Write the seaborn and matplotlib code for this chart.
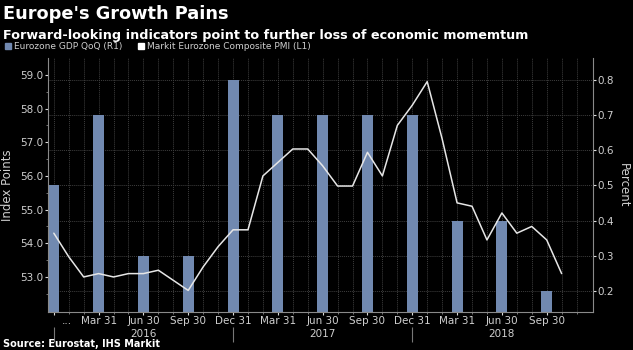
import pandas as pd
import seaborn as sns
import matplotlib.pyplot as plt
import matplotlib.transforms as mtransforms
from matplotlib.patches import Patch

# monthly PMI (left axis) and quarterly GDP QoQ (right axis)
months = pd.period_range("2015-12", "2018-10", freq="M")
pmi = [54.3, 53.6, 53.0, 53.1, 53.0, 53.1, 53.1, 53.2, 52.9, 52.6, 53.3, 53.9,
       54.4, 54.4, 56.0, 56.4, 56.8, 56.8, 56.3, 55.7, 55.7, 56.7, 56.0, 57.5,
       58.1, 58.8, 57.1, 55.2, 55.1, 54.1, 54.9, 54.3, 54.5, 54.1, 53.1]
quarters = months[::3]
gdp = [0.5, 0.7, 0.3, 0.3, 0.8, 0.7, 0.7, 0.7, 0.7, 0.4, 0.4, 0.2]
quarter_labels = ["...", "Mar 31", "Jun 30", "Sep 30", "Dec 31", "Mar 31", "Jun 30",
                  "Sep 30", "Dec 31", "Mar 31", "Jun 30", "Sep 30"]
years = ["2016", "2017", "2018"]

bar_col = "#7189b0"
txt_col = "#cfcfcf"
grid_col = "#3e3e3e"

sns.set_theme(style="dark")
plt.rcParams["font.family"] = ["DejaVu Sans"]

start = months[0]
pmi_df = pd.DataFrame({"x": [(m - start).n for m in months], "pmi": pmi})
gdp_df = pd.DataFrame({"x": [(q - start).n for q in quarters], "gdp": gdp})

fig = plt.figure(figsize=(6.33, 3.5), dpi=100, facecolor="black")
ax = fig.add_axes([0.0758, 0.1086, 0.861, 0.726])  # left axis: PMI
ax2 = ax.twinx()  # right axis: GDP
ax.set_zorder(ax2.get_zorder() + 1)
ax.patch.set_visible(False)
ax2.set_facecolor("black")

sns.barplot(data=gdp_df, x="x", y="gdp", native_scale=True, width=0.247,
            color=bar_col, saturation=1, ax=ax2, zorder=2,
            edgecolor="none", linewidth=0)
sns.lineplot(data=pmi_df, x="x", y="pmi", color="#e6e6e6", linewidth=1.1, ax=ax)

ax.set_xlim(-0.39, 36.1)
ax.set_ylim(51.96, 59.505)
ax2.set_ylim(0.140, 0.8626)

ax.set_yticks([53, 54, 55, 56, 57, 58, 59])
ax.set_yticks([52.5, 53.5, 54.5, 55.5, 56.5, 57.5, 58.5], minor=True)
ax.set_yticklabels([f"{v:.1f}" for v in [53, 54, 55, 56, 57, 58, 59]])
ax2.set_yticks([0.2, 0.3, 0.4, 0.5, 0.6, 0.7, 0.8])
ax2.set_yticklabels(["0.2", "0.3", "0.4", "0.5", "0.6", "0.7", "0.8"])

ax.set_xticks(gdp_df["x"])
ax.set_xticklabels(quarter_labels)
ax.set_xticks(pmi_df["x"].tolist() + [35], minor=True)
ax.set_xlabel("")
ax2.set_xlabel("")

# grid drawn on the back axis (x ticks are shared with the front axis)
ax.grid(False)
ax2.grid(False)
ax2.xaxis.set_visible(True)
ax2.yaxis.grid(True, color=grid_col, linestyle=(0, (1, 1)), linewidth=0.7)
ax2.xaxis.grid(True, which="both", color=grid_col, linestyle=(0, (1, 1)), linewidth=0.7)
ax2.set_axisbelow(True)
ax2.tick_params(axis="x", which="both", bottom=False, labelbottom=False,
                top=False, labeltop=False)

for a in (ax, ax2):
    for s in a.spines.values():
        s.set_visible(False)
ax.spines["left"].set_visible(True)
ax.spines["bottom"].set_visible(True)
ax2.spines["right"].set_visible(True)
for s in (ax.spines["left"], ax.spines["bottom"], ax2.spines["right"]):
    s.set_color("#8a8a8a")
    s.set_linewidth(0.8)

ax.tick_params(axis="y", which="major", left=True, length=2.5, width=0.8,
               color="#dddddd", labelsize=7.5, labelcolor=txt_col, pad=1)
ax.tick_params(axis="y", which="minor", left=True, length=1.5, width=0.6, color="#888888")
ax2.tick_params(axis="y", right=True, length=2.5, width=0.8, color="#dddddd",
                labelsize=7.5, labelcolor=txt_col, pad=1)
ax.tick_params(axis="x", which="major", bottom=True, length=2, width=0.8,
               color="#dddddd", labelsize=7.5, labelcolor=txt_col, pad=1)
ax.tick_params(axis="x", which="minor", bottom=True, length=1.2, width=0.6, color="#888888")

first = ax.get_xticklabels()[0]
first.set_ha("left")
first.set_transform(first.get_transform() +
                    mtransforms.ScaledTranslation(8 / 100, 0, fig.dpi_scale_trans))

ax.set_ylabel("Index Points", color=txt_col, fontsize=8.5, labelpad=4)
ax2.set_ylabel("Percent", color=txt_col, fontsize=8.5, rotation=270, labelpad=11)

# year grouping below the quarter labels
year_ax = ax.secondary_xaxis(-0.06)
year_ax.spines["bottom"].set_visible(False)
bounds = [0, 12, 24]
year_ax.set_xticks(bounds)
year_ax.set_xticklabels(["", "", ""])
year_ax.set_xticks([b + 6 for b in bounds], minor=True)
year_ax.set_xticklabels(years, minor=True)
year_ax.tick_params(axis="x", which="major", length=11, width=0.8, color="#777777")
year_ax.tick_params(axis="x", which="minor", length=0, labelsize=7.5,
                    labelcolor=txt_col, pad=1)

fig.text(0.004, 0.985, "Europe's Growth Pains", color="white", fontsize=12.8,
         fontweight="bold", va="top", ha="left")
fig.text(0.004, 0.918, "Forward-looking indicators point to further loss of economic momemtum",
         color="white", fontsize=9.2, fontweight="bold", va="top", ha="left")
fig.legend(handles=[Patch(color=bar_col), Patch(color="white")],
           labels=["Eurozone GDP QoQ (R1)", "Markit Eurozone Composite PMI (L1)"],
           loc="center left", bbox_to_anchor=(0.008, 0.866), ncol=2, frameon=False,
           fontsize=6.5, labelcolor=txt_col, handlelength=0.7, handleheight=0.7,
           handletextpad=0.3, columnspacing=1.7, borderaxespad=0, borderpad=0)
fig.text(0.004, 0.004, "Source: Eurostat, IHS Markit", color="white", fontsize=7,
         fontweight="bold", va="bottom", ha="left")

fig.savefig("out.png", dpi=100, facecolor="black")
